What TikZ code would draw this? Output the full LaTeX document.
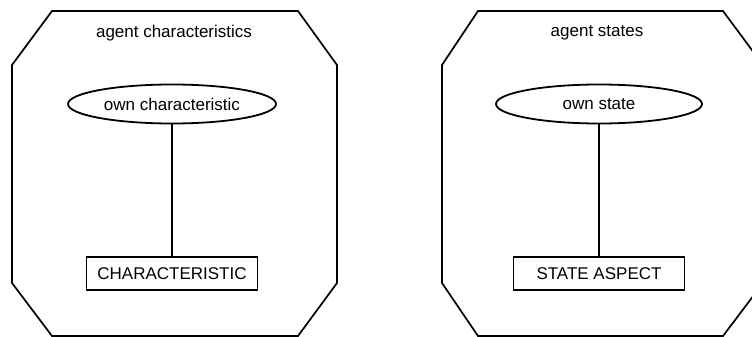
\documentclass[tikz,border=0pt]{standalone}
\usepackage{fontspec}
\setmainfont{Liberation Sans}
\usetikzlibrary{shapes.geometric, positioning}
\tikzset{
    agentbox/.style={draw=black, line width=1.7pt},
    boxtitle/.style={font=\fontsize{17}{20}\selectfont},
    relation/.style={ellipse, minimum width=208pt, minimum height=39pt, inner sep=0pt, align=center, draw=black, line width=1.8pt, font=\fontsize{17}{20}\selectfont},
    entity/.style={rectangle, minimum width=171pt, minimum height=33pt, inner sep=0pt, align=center, draw=black, line width=1.8pt, font=\fontsize{17}{20}\selectfont},
    link/.style={line width=1.6pt}
}

\begin{document}
\begin{tikzpicture}[x=1pt, y=-1pt, node distance=132pt]
    \clip (0,0) rectangle (752,337);

    % agent characteristics
    \draw [agentbox] (52,11) -- (298,11) -- (337,65) -- (337,283) -- (298,336) -- (52,336) -- (12,283) -- (12,65) -- cycle;
    \node (charTitle) [boxtitle] at (174,33) {agent characteristics};
    \node (ownChar) [relation] at (172,104) {own characteristic};
    \node (charEntity) [entity, below=of ownChar] {CHARACTERISTIC};
    \draw [link] (ownChar) -- (charEntity);

    % agent states
    \draw [agentbox] (478,11) -- (723,11) -- (763,65) -- (763,283) -- (723,336) -- (478,336) -- (442,283) -- (442,65) -- cycle;
    \node (stateTitle) [boxtitle] at (597,33) {agent states};
    \node (ownState) [relation, minimum width=206pt] at (599,104) {own state};
    \node (stateEntity) [entity, below=of ownState] {STATE ASPECT};
    \draw [link] (ownState) -- (stateEntity);
\end{tikzpicture}
\end{document}
